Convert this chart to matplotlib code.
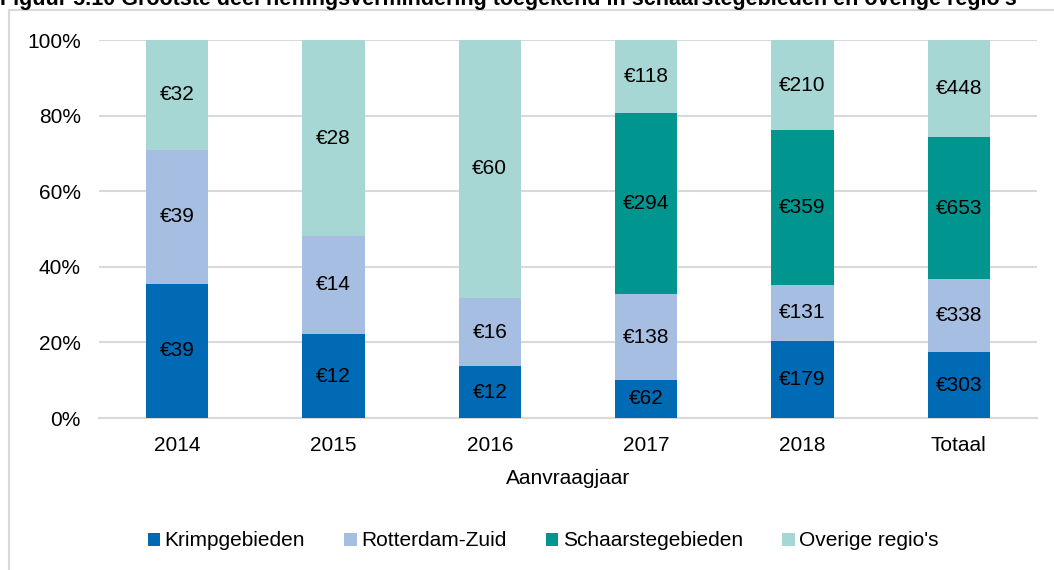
import numpy as np
import matplotlib
matplotlib.use("Agg")
import matplotlib.pyplot as plt
from matplotlib.lines import Line2D

plt.rcParams['font.family'] = ['Liberation Sans', 'DejaVu Sans']

# data (x EUR mln), per aanvraagjaar
jaren = ['2014', '2015', '2016', '2017', '2018', 'Totaal']
krimp = [39, 12, 12, 62, 179, 303]
rotterdam = [39, 14, 16, 138, 131, 338]
schaarste = [0, 0, 0, 294, 359, 653]
overig = [32, 28, 60, 118, 210, 448]

series = ['Krimpgebieden', 'Rotterdam-Zuid', 'Schaarstegebieden', "Overige regio's"]
colors = ['#006AB4', '#A6BEE2', '#00968F', '#A7D7D4']

fig = plt.figure(figsize=(10.54, 5.70), dpi=100)
ax = fig.add_axes([99 / 1054, 1 - 418 / 570, (1037 - 99) / 1054, 378 / 570])

vals = np.array([krimp, rotterdam, schaarste, overig], dtype=float)
totals = vals.sum(axis=0)
shares = vals / totals * 100
x = np.arange(len(jaren))
bottom = np.zeros(len(jaren))
for i, name in enumerate(series):
    ax.bar(x, shares[i], 0.4, bottom=bottom, color=colors[i], label=name, zorder=3)
    for j in range(len(jaren)):
        if vals[i, j] > 0:
            ax.text(x[j], bottom[j] + shares[i, j] / 2, f"€{int(vals[i, j])}",
                    ha='center', va='center', fontsize=15, color='black', zorder=4)
    bottom += shares[i]

ax.set_xlim(-0.5, len(jaren) - 0.5)
ax.set_ylim(0, 100)
ax.set_yticks(range(0, 101, 20))
ax.set_yticklabels([f"{v}%" for v in range(0, 101, 20)])
ax.set_xticks(x)
ax.set_xticklabels(jaren)
ax.tick_params(axis='both', length=0, labelsize=15)
ax.tick_params(axis='y', pad=13)
ax.tick_params(axis='x', pad=13)
ax.grid(axis='y', color='#D9D9D9', linewidth=1.5, zorder=0)
for s in ['top', 'right', 'left']:
    ax.spines[s].set_visible(False)
ax.spines['bottom'].set_color('#D9D9D9')
ax.spines['bottom'].set_linewidth(1.5)
ax.set_xlabel('Aanvraagjaar', fontsize=15, labelpad=10)

fig.legend(loc='center', bbox_to_anchor=(543 / 1054, 1 - 541 / 570), ncol=4,
           frameon=False, fontsize=15, handlelength=0.6, handleheight=0.6,
           handletextpad=0.2, columnspacing=1.9)

# kader om de figuur
fig.add_artist(Line2D([9 / 1054, 9 / 1054], [0, 1 - 10 / 570], color='#D9D9D9', lw=1.5))
fig.add_artist(Line2D([9 / 1054, 1], [1 - 10 / 570, 1 - 10 / 570], color='#D9D9D9', lw=1.5))

fig.text(0.0, 1 - 5 / 570,
         "Figuur 5.10 Grootste deel heffingsvermindering toegekend in schaarstegebieden en overige regio's",
         ha='left', va='baseline', fontsize=15.5, fontweight='bold')

fig.savefig('out.png', dpi=100)
